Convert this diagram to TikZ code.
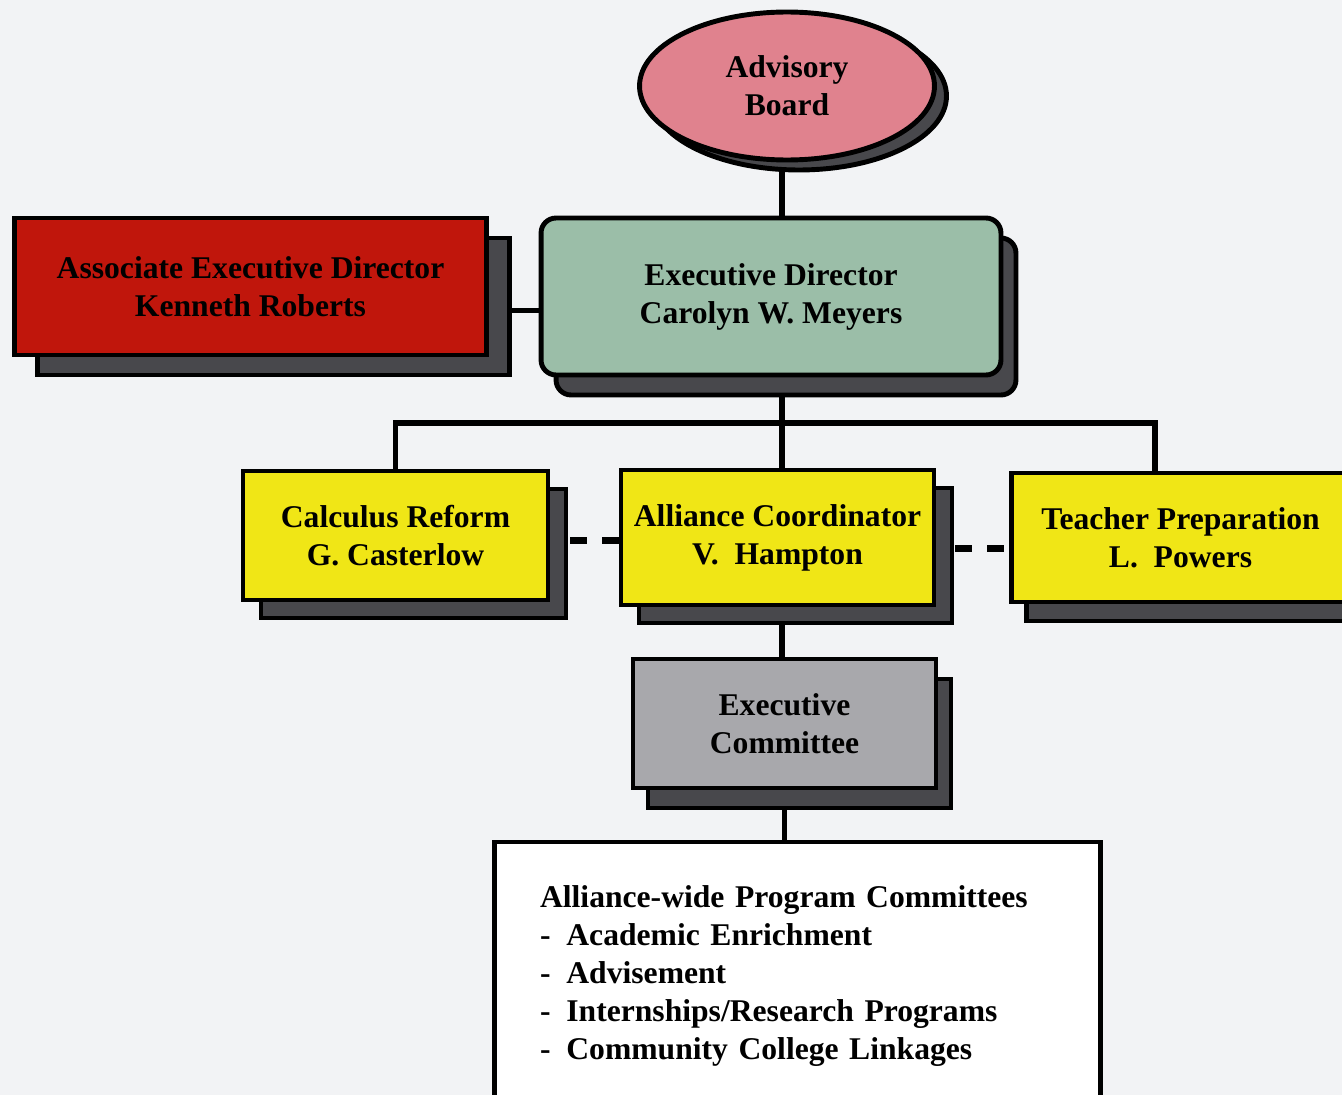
\documentclass[tikz,border=0pt]{standalone}
\usepackage{fontspec}
\setmainfont{Liberation Serif}
\usetikzlibrary{positioning,shapes.geometric,shadows,backgrounds,calc}
\definecolor{pagebg}{RGB}{242,243,245}
\definecolor{boardpink}{RGB}{224,130,142}
\definecolor{dirgreen}{RGB}{155,190,168}
\definecolor{assocred}{RGB}{192,22,12}
\definecolor{progyellow}{RGB}{240,230,22}
\definecolor{commgray}{RGB}{168,168,172}
\definecolor{shadegray}{RGB}{72,72,76}

\begin{document}
\begin{tikzpicture}[x=0.02cm,y=-0.02cm,
  font=\bfseries\fontsize{18}{21.6}\selectfont,
  orgbox/.style={draw=black,line width=2.8pt,align=center,inner sep=0pt},
  boxshade/.style 2 args={general shadow={shadow xshift=#1,shadow yshift=#2,
    fill=shadegray,draw=black,line width=2.8pt,opacity=1}},
  conn/.style={line width=3pt},
  dashconn/.style={line width=4pt,dash pattern=on 0.34cm off 0.3cm}]
  \useasboundingbox (0,0) rectangle (1342,1095);

  % top of the chart
  \node[ellipse,orgbox,fill=boardpink,minimum width=5.9cm,minimum height=2.96cm,
    boxshade={0.24cm}{-0.2cm}] (board) at (787,86) {Advisory\\Board};
  \node[orgbox,fill=dirgreen,rounded corners=0.3cm,minimum width=9.2cm,minimum height=3.14cm,
    boxshade={0.3cm}{-0.4cm}] (execdir) at (771,296.5) {Executive Director\\Carolyn W. Meyers};
  \node[orgbox,fill=assocred,minimum width=9.46cm,minimum height=2.74cm,
    boxshade={0.46cm}{-0.4cm}] (assoc) at (250.5,286.5) {Associate Executive Director\\Kenneth Roberts};

  % programs
  \node[orgbox,fill=progyellow,minimum width=6.1cm,minimum height=2.58cm,
    boxshade={0.36cm}{-0.36cm}] (calculus) at (395.5,535.5) {Calculus Reform\\G. Casterlow};
  \node[orgbox,fill=progyellow,minimum width=6.26cm,minimum height=2.7cm,
    boxshade={0.36cm}{-0.36cm}] (alliance) at (777.5,537.5) {Alliance Coordinator\\V.\ \ Hampton};
  \node[orgbox,fill=progyellow,minimum width=6.78cm,minimum height=2.58cm,
    boxshade={0.3cm}{-0.38cm}] (teacher) at (1180.5,537.5) {Teacher Preparation\\L.\ \ Powers};

  % committees
  \node[orgbox,fill=commgray,minimum width=6.06cm,minimum height=2.58cm,
    boxshade={0.3cm}{-0.4cm}] (excomm) at (784.5,723.5) {Executive\\Committee};
  \node[orgbox,fill=white,align=left,text width=10.3cm,inner xsep=0.92cm,minimum height=5.36cm]
    (programs) at (797.5,976) {Alliance-wide Program Committees\\
    -\hspace{0.5em}Academic Enrichment\\
    -\hspace{0.5em}Advisement\\
    -\hspace{0.5em}Internships/Research Programs\\
    -\hspace{0.5em}Community College Linkages};

  \begin{scope}[on background layer]
    \fill[pagebg] (0,0) rectangle (1342,1095);
    \coordinate (bus) at (782,423);
    \coordinate (tdrop) at (1155,423);
    \draw[conn] (bus |- board) -- (bus |- execdir);
    \draw[conn] ($(assoc)+(0,24)$) -- ($(execdir)+(0,14)$);
    \draw[conn] (bus |- execdir) -- (bus |- excomm);
    \draw[conn] (calculus) -- (calculus |- bus) -- (tdrop) -- (tdrop |- teacher);
    \draw[conn] (excomm) -- (excomm |- programs);
    \draw[dashconn] ($(calculus.east)+(20,5)$) -- ($(alliance.west)+(0,3)$);
    \draw[dashconn] ($(alliance.east)+(19,11)$) -- ($(teacher.west)+(0,11)$);
  \end{scope}
\end{tikzpicture}
\end{document}
